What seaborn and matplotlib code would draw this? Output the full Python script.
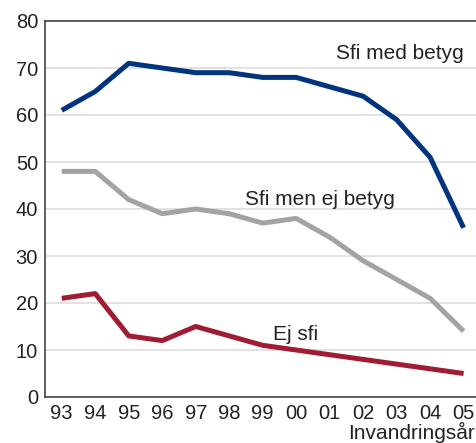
import matplotlib
matplotlib.use("Agg")
import matplotlib.pyplot as plt
import seaborn as sns
import pandas as pd

# Data
years = ["93", "94", "95", "96", "97", "98", "99", "00", "01", "02", "03", "04", "05"]
sfi_med_betyg = [61, 65, 71, 70, 69, 69, 68, 68, 66, 64, 59, 51, 36]
sfi_men_ej_betyg = [48, 48, 42, 39, 40, 39, 37, 38, 34, 29, 25, 21, 14]
ej_sfi = [21, 22, 13, 12, 15, 13, 11, 10, 9, 8, 7, 6, 5]

series = {
    "Sfi med betyg": sfi_med_betyg,
    "Sfi men ej betyg": sfi_men_ej_betyg,
    "Ej sfi": ej_sfi,
}
colors = {
    "Sfi med betyg": "#00347f",
    "Sfi men ej betyg": "#a3a3a3",
    "Ej sfi": "#a01c32",
}

rows = []
for namn, vals in series.items():
    for i, v in enumerate(vals):
        rows.append({"pos": i, "year": years[i], "serie": namn, "value": v})
df = pd.DataFrame(rows)

sns.set_style("white")
plt.rcParams["font.family"] = ["Liberation Sans", "DejaVu Sans"]

fig = plt.figure(figsize=(4.77, 4.43), dpi=100)
ax = fig.add_axes([45 / 477, 1 - 397 / 443, 1 - 45 / 477, (397 - 21) / 443])

sns.lineplot(data=df, x="pos", y="value", hue="serie", palette=colors,
             linewidth=3.6, legend=False, ax=ax, solid_capstyle="butt")

ax.set_xlim(-0.5, 12.4)
ax.set_ylim(0, 80)
ax.set_yticks(range(0, 81, 10))
ax.set_xticks(range(len(years)))
ax.set_xticklabels(years)
ax.tick_params(axis="y", length=0, labelsize=14.5, colors="#222222", pad=5)
ax.tick_params(axis="x", direction="in", length=8, width=1, color="#d0d0d0",
               labelsize=14.5, labelcolor="#222222", pad=5)
ax.yaxis.grid(True, color="#dddddd", linewidth=1.2)
ax.set_axisbelow(True)
ax.set_xlabel("")
ax.set_ylabel("")

for side in ["left", "bottom", "top"]:
    ax.spines[side].set_color("#444444")
    ax.spines[side].set_linewidth(1.2)
ax.spines["right"].set_visible(False)

ax.text(8.2, 73, "Sfi med betyg", fontsize=15, color="#222222", va="center")
ax.text(5.46, 42, "Sfi men ej betyg", fontsize=15, color="#222222", va="center")
ax.text(6.3, 13.4, "Ej sfi", fontsize=15, color="#222222", va="center")

fig.text(348 / 477, 0.0, "Invandringsår", fontsize=15, color="#222222",
         ha="left", va="bottom")

fig.savefig("out.png", dpi=100)
